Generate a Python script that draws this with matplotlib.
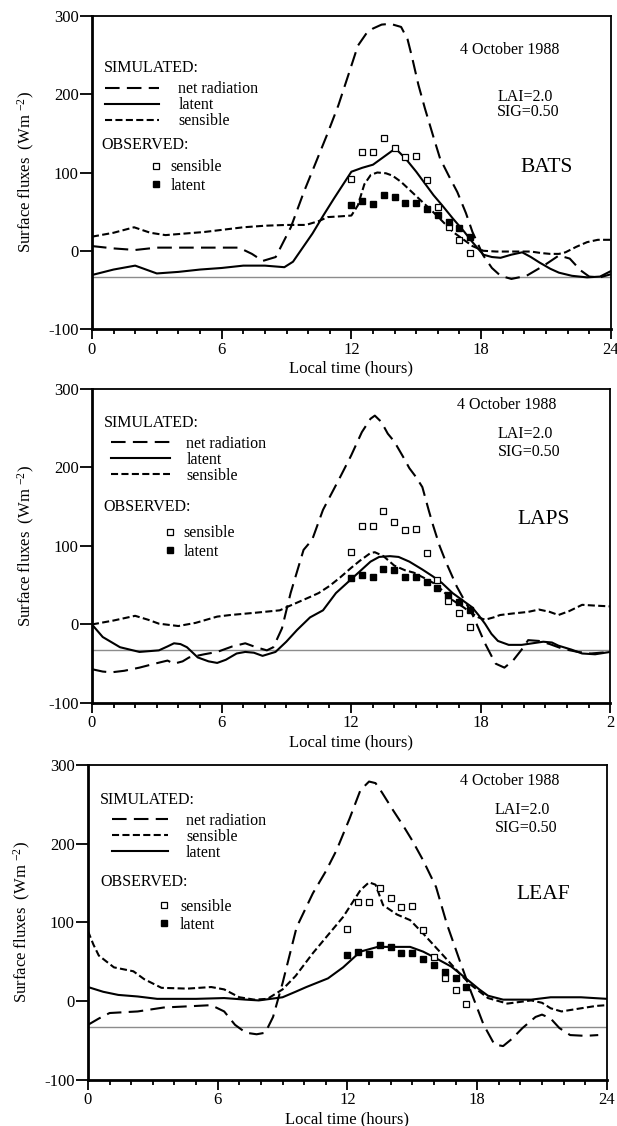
import matplotlib
matplotlib.use("Agg")
import matplotlib.pyplot as plt
from matplotlib.ticker import MultipleLocator, FixedLocator

plt.rcParams['font.family'] = ['Liberation Serif', 'DejaVu Serif']
plt.rcParams['mathtext.default'] = 'regular'
plt.rcParams['axes.unicode_minus'] = False

# ---- observed data (same in every panel) ----
obs_hours = [12.0, 12.5, 13.0, 13.5, 14.0, 14.5, 15.0, 15.5, 16.0, 16.5, 17.0, 17.5]
obs_sensible = [92, 126, 126, 144, 131, 120, 121, 91, 56, 30, 14, -3]
obs_latent = [59, 63, 60, 71, 69, 61, 61, 54, 46, 37, 29, 18]
ref_level = -33

# ---- BATS ----
bats_net_h = [0, 1, 2, 3, 4, 5, 6, 6.8, 7.4, 7.9, 8.5, 9.2, 9.8, 10.3, 10.9, 11.4, 11.9, 12.3, 12.7, 13.0,
              13.4, 13.8, 14.3, 14.6, 14.8, 15.1, 15.4, 15.8, 16.1, 16.5, 16.9, 17.3, 17.6, 18.1, 18.5,
              18.9, 19.4, 20.1, 20.9, 21.6, 22.1, 22.6, 23.0, 23.5, 24]
bats_net = [6, 3, 1, 4, 4, 4, 4, 4, -4, -13, -8, 30, 75, 109, 150, 186, 228, 262, 278, 284,
            289, 290, 286, 270, 248, 212, 182, 145, 118, 96, 75, 48, 24, -6, -22,
            -32, -36, -32, -19, -6, -10, -25, -33, -34, -30]
bats_lat_h = [0, 1, 2, 3, 4, 5, 6, 7, 8, 8.9, 9.3, 9.6, 10.2, 10.7, 11.2, 11.6, 12.0, 12.5, 13.0, 13.5,
              13.9, 14.1, 14.5, 15.0, 15.4, 15.8, 16.2, 16.7, 17.2, 17.6, 18.1, 18.5, 18.9, 19.4, 19.9,
              20.3, 20.7, 21.2, 21.6, 22.2, 22.9, 23.5, 24]
bats_lat = [-31, -24, -19, -29, -27, -24, -22, -19, -19, -21, -14, -2, 22, 45, 67, 84, 101, 106, 110, 120,
            128, 129, 118, 101, 86, 71, 58, 41, 25, 11, -5, -8, -9, -5, -2,
            -8, -15, -23, -28, -32, -34, -33, -26]
bats_sen_h = [0, 1, 1.95, 2.7, 3.4, 4.3, 5.2, 6.1, 7, 8, 9, 9.9, 10.5, 10.9, 11.5, 12.0, 12.3, 12.6, 12.9,
              13.2, 13.6, 13.9, 14.3, 14.8, 15.3, 15.8, 16.2, 16.7, 17.2, 17.6, 18.1, 18.7, 19.4, 20.3,
              20.8, 21.2, 21.6, 21.9, 22.4, 22.9, 23.4, 24]
bats_sen = [18, 23, 30, 23, 20, 22, 24, 27, 30, 32, 33, 33, 38, 43, 44, 45, 58, 85, 97,
            100, 99, 96, 88, 75, 62, 49, 38, 24, 14, 6, 0, -1, -1, -1,
            -3, -4, -4, -2, 5, 11, 14, 14]

# ---- LAPS ----
laps_net_h = [0, 0.5, 0.9, 1.5, 2.2, 2.9, 3.5, 3.8, 4.2, 4.5, 5.2, 5.8, 6.5, 7.1, 7.6, 8.1, 8.4, 8.8, 9.2,
              9.8, 10.2, 10.7, 11.5, 12.0, 12.5, 12.9, 13.1, 13.4, 13.7, 14.0, 14.4, 14.7, 15.0, 15.3,
              15.6, 15.8, 16.1, 16.4, 16.9, 17.3, 17.6, 17.9, 18.2, 18.5, 18.7, 19.1, 19.5, 19.9, 20.2,
              20.7, 21.2, 21.8, 22.5, 23.1, 24]
laps_net = [-57, -60, -61, -59, -55, -50, -46, -50, -47, -42, -38, -35, -28, -24, -29, -33, -29, -5, 40,
            95, 108, 146, 188, 215, 245, 262, 266, 258, 243, 233, 214, 199, 188, 175,
            145, 126, 100, 79, 48, 28, 14, -5, -24, -40, -50, -55, -46, -32, -20,
            -21, -25, -31, -35, -37, -35]
laps_lat_h = [0, 0.5, 1.3, 2.2, 3.1, 3.5, 3.8, 4.1, 4.4, 4.9, 5.4, 5.8, 6.2, 6.7, 7.1, 7.5, 7.9, 8.5, 9.0,
              9.5, 10.1, 10.7, 11.3, 12.1, 12.9, 13.3, 13.8, 14.2, 14.7, 15.3, 15.8, 16.2, 16.7, 17.2,
              17.6, 17.9, 18.2, 18.5, 18.8, 19.3, 19.9, 20.4, 20.9, 21.3, 21.6, 22.2, 22.7, 23.3, 24]
laps_lat = [0, -16, -29, -35, -33, -28, -24, -25, -29, -42, -47, -49, -45, -37, -35, -36, -40, -35, -22,
            -7, 9, 18, 40, 60, 80, 86, 87, 86, 80, 70, 61, 53, 40, 30,
            22, 12, 1, -12, -21, -26, -26, -24, -22, -23, -27, -32, -37, -38, -35]
laps_sen_h = [0, 1, 2, 2.6, 3.1, 4.0, 4.8, 5.8, 6.4, 7.6, 8.7, 9.1, 10.1, 10.5, 11.0, 11.5, 12.0, 12.4,
              12.9, 13.1, 13.5, 14.0, 14.5, 14.9, 15.4, 15.8, 16.2, 16.7, 17.2, 17.6, 17.9, 18.2, 18.6,
              18.9, 19.5, 20.2, 20.7, 21.2, 21.6, 22.1, 22.7, 23.3, 24]
laps_sen = [0, 5, 11, 6, 1, -2, 2, 10, 12, 15, 18, 23, 35, 40, 49, 60, 72, 81,
            91, 92, 87, 75, 69, 66, 59, 53, 44, 31, 22, 14, 9, 6, 9,
            12, 14, 16, 19, 16, 12, 17, 25, 24, 23]

# ---- LEAF ----
leaf_net_h = [0, 0.5, 1, 2.3, 3.5, 5, 5.7, 6.3, 6.8, 7.3, 7.8, 8.2, 8.56, 9.0, 9.65, 10.4, 11.0, 11.5,
              12.1, 12.6, 13.0, 13.3, 13.6, 14.1, 14.6, 15.0, 15.5, 16.1, 16.6, 17.2, 17.7, 18.3, 18.8,
              19.2, 19.6, 20.1, 20.7, 21.0, 21.4, 21.8, 22.3, 23.0, 23.6]
leaf_net = [-30, -22, -15, -13, -8, -6, -5, -13, -30, -40, -42, -40, -20, 23, 94, 137, 165, 192,
            232, 268, 279, 277, 265, 243, 222, 204, 179, 145, 98, 51, 13, -30, -55,
            -57, -48, -34, -20, -17, -22, -34, -43, -44, -43]
leaf_sen_h = [0, 0.25, 0.5, 1.2, 2.1, 2.6, 3.4, 4.6, 5.7, 6.3, 7, 7.7, 8.3, 9.0, 9.6, 10.4, 11.1, 11.8,
              12.6, 13.0, 13.3, 13.65, 14.3, 14.9, 15.5, 16.1, 16.8, 17.2, 17.7, 18.5, 19.4, 20.5, 21.0,
              21.4, 21.9, 22.8, 23.5, 24]
leaf_sen = [89, 72, 58, 43, 38, 28, 17, 16, 18, 15, 5, 2, 3, 15, 32, 61, 84, 107,
            141, 151, 148, 122, 110, 103, 86, 68, 47, 35, 21, 4, -3, 1, -2,
            -9, -13, -9, -6, -5]
leaf_lat_h = [0, 0.7, 1.4, 2.3, 3.2, 5, 6.3, 7.3, 7.9, 9.0, 9.6, 10.1, 11.1, 11.8, 12.6, 13.4, 14.2, 14.9,
              15.5, 16.0, 16.8, 17.3, 17.7, 18.1, 18.5, 19.2, 20.5, 21.4, 22.8, 24]
leaf_lat = [18, 12, 8, 6, 3, 3, 4, 2, 1, 5, 12, 18, 29, 43, 63, 69, 69, 69,
            63, 56, 44, 33, 24, 15, 7, 2, 2, 5, 5, 3]

x_major = [0, 6, 12, 18, 24]
y_major = [-100, 0, 100, 200, 300]

NET_STYLE = dict(color='black', lw=1.5, linestyle=(0, (7, 3.5)))
SEN_STYLE = dict(color='black', lw=1.5, linestyle=(0, (3.4, 1.6)))
LAT_STYLE = dict(color='black', lw=1.5, linestyle='-')

panels = [
    dict(name='BATS', rect=[0.149, 0.7078, 0.841, 0.278],
         net=(bats_net_h, bats_net), lat=(bats_lat_h, bats_lat), sen=(bats_sen_h, bats_sen),
         order=['net', 'lat', 'sen'], xlabels=['0', '6', '12', '18', '24'],
         date=(19.3, 256), sim=(0.53, 234), leg=(0.6, 186), hlen=3.4, hpad=1.2,
         obs=(0.45, 135), oleg=(2.6, 95), opad=0.42, lai=(18.75, 197), sig=(18.75, 177),
         tag=(19.8, 106)),
    dict(name='LAPS', rect=[0.149, 0.3757, 0.840, 0.2789],
         net=(laps_net_h, laps_net), lat=(laps_lat_h, laps_lat), sen=(laps_sen_h, laps_sen),
         order=['net', 'lat', 'sen'], xlabels=['0', '6', '12', '18', '2'],
         date=(19.2, 280), sim=(0.55, 257), leg=(0.9, 210), hlen=3.7, hpad=1.0,
         obs=(0.55, 149), oleg=(3.25, 104.5), opad=0.35, lai=(18.8, 242), sig=(18.8, 220),
         tag=(19.7, 134)),
    dict(name='LEAF', rect=[0.1426, 0.0409, 0.841, 0.2797],
         net=(leaf_net_h, leaf_net), lat=(leaf_lat_h, leaf_lat), sen=(leaf_sen_h, leaf_sen),
         order=['net', 'sen', 'lat'], xlabels=['0', '6', '12', '18', '24'],
         date=(19.5, 280), sim=(0.55, 255), leg=(1.1, 209), hlen=3.5, hpad=1.15,
         obs=(0.55, 151), oleg=(3.15, 108.5), opad=0.5, lai=(18.8, 243), sig=(18.8, 220),
         tag=(19.8, 135)),
]

names = {'net': 'net radiation', 'lat': 'latent', 'sen': 'sensible'}
styles = {'net': NET_STYLE, 'lat': LAT_STYLE, 'sen': SEN_STYLE}

fig = plt.figure(figsize=(6.17, 11.26), dpi=100)

for p in panels:
    ax = fig.add_axes(p['rect'])
    ax.axhline(ref_level, color='#8c8c8c', lw=1.0, zorder=1)

    lines = {}
    for key in ['net', 'lat', 'sen']:
        h, v = p[key]
        lines[key], = ax.plot(h, v, **styles[key], zorder=3)

    sq_open, = ax.plot(obs_hours, obs_sensible, linestyle='none', marker='s', ms=4.3,
                       mfc='white', mec='black', mew=0.9, zorder=4)
    sq_fill, = ax.plot(obs_hours, obs_latent, linestyle='none', marker='s', ms=5,
                       mfc='black', mec='black', zorder=4)

    ax.set_xlim(0, 24)
    ax.set_ylim(-100, 300)
    ax.xaxis.set_major_locator(FixedLocator(x_major))
    ax.xaxis.set_minor_locator(MultipleLocator(1))
    ax.set_xticklabels(p['xlabels'])
    ax.yaxis.set_major_locator(FixedLocator(y_major))
    ax.tick_params(axis='x', which='major', direction='out', length=7, width=1.3, pad=2, labelsize=12)
    ax.tick_params(axis='x', which='minor', direction='out', length=3.5, width=1.3)
    ax.tick_params(axis='y', which='major', direction='out', length=8.5, width=1.3, pad=1, labelsize=12)
    for s in ['left', 'bottom']:
        ax.spines[s].set_linewidth(2.0)
    for s in ['top', 'right']:
        ax.spines[s].set_linewidth(1.3)

    ax.set_xlabel('Local time (hours)', fontsize=12, labelpad=2)
    ax.set_ylabel('Surface fluxes  (Wm $^{-2}$)', fontsize=12, labelpad=8)

    # text annotations
    ax.text(*p['date'], '4 October 1988', fontsize=11.5, ha='center', va='center')
    ax.text(*p['lai'], 'LAI=2.0', fontsize=11.5, ha='left', va='center')
    ax.text(*p['sig'], 'SIG=0.50', fontsize=11.5, ha='left', va='center')
    ax.text(*p['tag'], p['name'], fontsize=15.5, ha='left', va='center')
    ax.text(*p['sim'], 'SIMULATED:', fontsize=11.5, ha='left', va='center')
    ax.text(*p['obs'], 'OBSERVED:', fontsize=11.5, ha='left', va='center')

    leg1 = ax.legend([lines[k] for k in p['order']], [names[k] for k in p['order']],
                     loc='center left', bbox_to_anchor=p['leg'], bbox_transform=ax.transData,
                     frameon=False, borderpad=0, borderaxespad=0, fontsize=11.5,
                     handlelength=p['hlen'], handletextpad=p['hpad'], labelspacing=0.0)
    ax.add_artist(leg1)
    ax.legend([sq_open, sq_fill], ['sensible', 'latent'], numpoints=1,
              loc='center left', bbox_to_anchor=p['oleg'], bbox_transform=ax.transData,
              frameon=False, borderpad=0, borderaxespad=0, fontsize=11.5,
              handlelength=1.0, handletextpad=p['opad'], labelspacing=0.15)

fig.savefig('out.png', dpi=100)
